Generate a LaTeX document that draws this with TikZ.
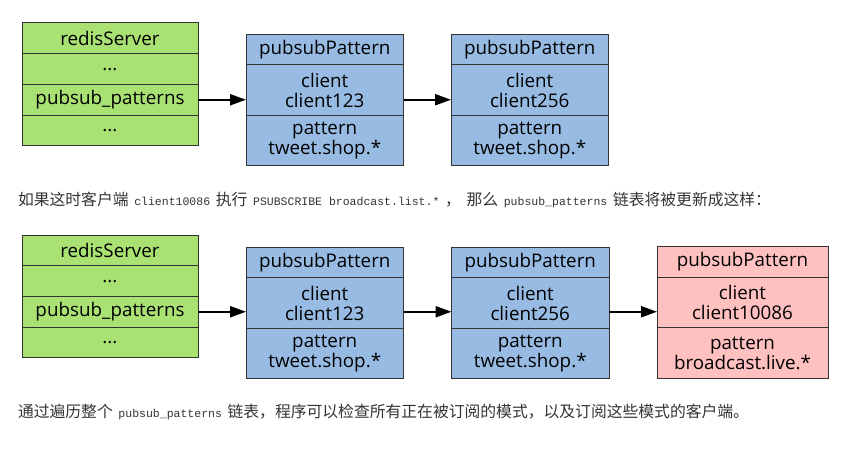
\documentclass[tikz,border=0pt]{standalone}
\usepackage{fontspec}
\setmainfont{Open Sans}
\newfontfamily\cjkfont[WordSpace=1.6]{Noto Sans CJK SC}
\newfontfamily\codefont{Liberation Mono}
\newcommand{\inlinecode}[1]{{\codefont\fontsize{11.5}{14}\selectfont #1}}
\usetikzlibrary{positioning,arrows.meta}
\definecolor{srvgreen}{RGB}{169,226,115}
\definecolor{patblue}{RGB}{151,187,227}
\definecolor{patpink}{RGB}{255,192,192}
\definecolor{edgegray}{RGB}{51,51,51}
\definecolor{txtgray}{RGB}{51,51,51}
\tikzstyle{every node}=[inner sep=0pt,outer sep=0pt]
\tikzstyle{field}=[draw=edgegray,line width=1pt,align=center,font=\fontsize{18.8}{20}\selectfont]
\tikzstyle{srvrow}=[field,fill=srvgreen,minimum width=176pt,minimum height=30.7pt]
\tikzstyle{pathead}=[field,fill=patblue,minimum width=157.5pt,minimum height=30.7pt]
\tikzstyle{patrow}=[field,fill=patblue,minimum width=157.5pt,minimum height=50.5pt]
\tikzstyle{newhead}=[pathead,fill=patpink,minimum width=171pt]
\tikzstyle{newrow}=[patrow,fill=patpink,minimum width=171pt]
\tikzstyle{ptr}=[line width=2.2pt,-{Triangle[length=16pt,width=11pt]}]
\tikzstyle{note}=[anchor=west,text=txtgray,font=\cjkfont\fontsize{15.8}{18}\selectfont]

\begin{document}
\begin{tikzpicture}[x=1pt,y=-1pt]
  \useasboundingbox (0,0) rectangle (856,449);

  % before: two patterns
  \node[srvrow,anchor=north west] (srvA) at (22,23) {redisServer};
  \node[srvrow,below=0pt of srvA] (srvA1) {...};
  \node[srvrow,below=0pt of srvA1] (srvA2) {pubsub\_patterns};
  \node[srvrow,below=0pt of srvA2] (srvA3) {...};

  \node[pathead,anchor=north west] (patA) at (246,34.3) {pubsubPattern};
  \node[patrow,below=0pt of patA] (patA1) {client\\client123};
  \node[patrow,below=0pt of patA1] (patA2) {pattern\\tweet.shop.*};

  \node[pathead,anchor=north west] (patB) at (451,34.3) {pubsubPattern};
  \node[patrow,below=0pt of patB] (patB1) {client\\client256};
  \node[patrow,below=0pt of patB1] (patB2) {pattern\\tweet.shop.*};

  \draw[ptr] (srvA2.east) -- (srvA2.east -| patA1.west);
  \draw[ptr] (patA1.east |- srvA2.east) -- (patB1.west |- srvA2.east);

  \node[note] (noteA) at (18,200) {如果这时客户端 \inlinecode{client10086} 执行 \inlinecode{PSUBSCRIBE broadcast.list.*} ，\ 那么 \inlinecode{pubsub\_patterns} 链表将被更新成这样：};

  % after: client10086 appended
  \node[srvrow,anchor=north west] (srvB) at (22,235) {redisServer};
  \node[srvrow,below=0pt of srvB] (srvB1) {...};
  \node[srvrow,below=0pt of srvB1] (srvB2) {pubsub\_patterns};
  \node[srvrow,below=0pt of srvB2] (srvB3) {...};

  \node[pathead,anchor=north west] (patC) at (246,247) {pubsubPattern};
  \node[patrow,below=0pt of patC] (patC1) {client\\client123};
  \node[patrow,below=0pt of patC1] (patC2) {pattern\\tweet.shop.*};

  \node[pathead,anchor=north west] (patD) at (451.5,247) {pubsubPattern};
  \node[patrow,below=0pt of patD] (patD1) {client\\client256};
  \node[patrow,below=0pt of patD1] (patD2) {pattern\\tweet.shop.*};

  \node[newhead,anchor=north west] (patE) at (657,246.5) {pubsubPattern};
  \node[newrow,below=0pt of patE] (patE1) {client\\client10086};
  \node[newrow,below=0pt of patE1] (patE2) {pattern\\broadcast.live.*};

  \draw[ptr] (srvB2.east) -- (srvB2.east -| patC1.west);
  \draw[ptr] (patC1.east |- srvB2.east) -- (patD1.west |- srvB2.east);
  \draw[ptr] (patD1.east |- srvB2.east) -- (patE1.west |- srvB2.east);

  \node[note] (noteB) at (18,412) {通过遍历整个 \inlinecode{pubsub\_patterns} 链表，程序可以检查所有正在被订阅的模式，以及订阅这些模式的客户端。};
\end{tikzpicture}
\end{document}
